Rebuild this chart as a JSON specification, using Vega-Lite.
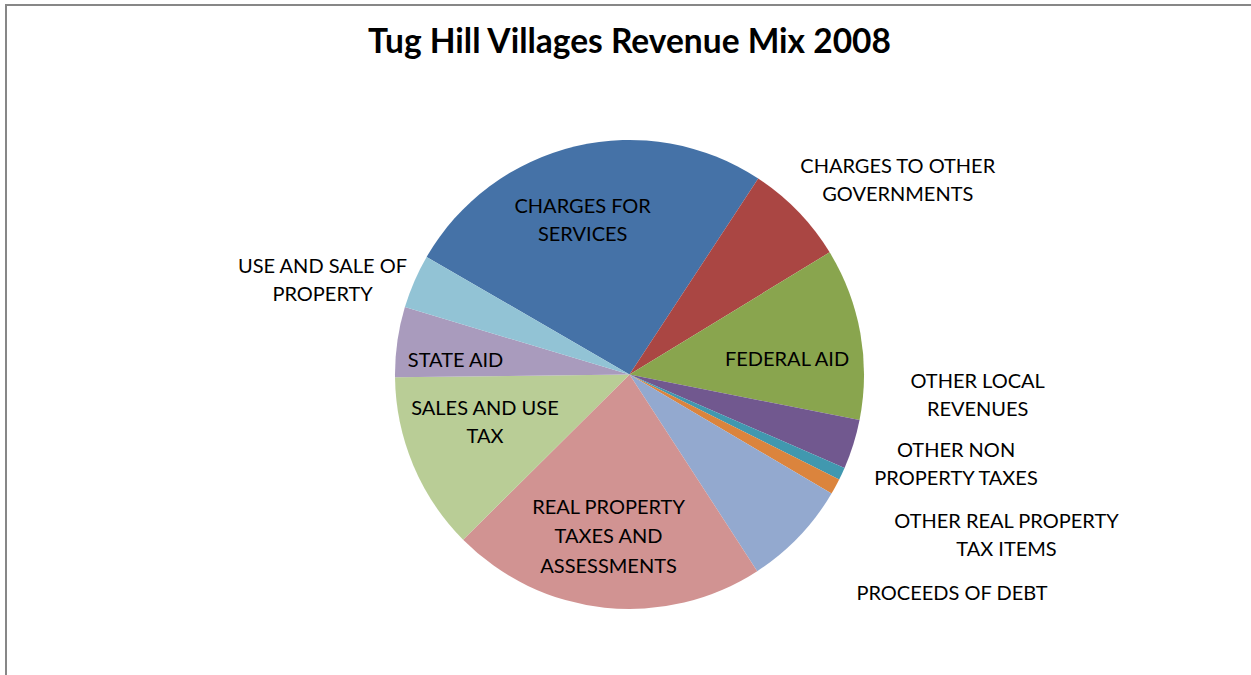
{
  "$schema": "https://vega.github.io/schema/vega-lite/v6.json",
  "width": 1247,
  "height": 739,
  "autosize": {"type": "none"},
  "padding": {"left": 6, "top": 5, "right": 0, "bottom": 0},
  "background": "white",
  "view": {"stroke": "#878787", "strokeWidth": 2},
  "title": {"text": "Tug Hill Villages Revenue Mix 2008", "font": "Lato", "fontSize": 33.5, "fontWeight": "bold", "color": "#000000", "anchor": "middle", "baseline": "alphabetic", "offset": -81, "frame": "bounds"},
  "config": {"view": {"stroke": "#878787", "strokeWidth": 2}},
  "data": {"values": [
    {"cat": "CHARGES FOR SERVICES", "label": "CHARGES FOR\nSERVICES", "value": 93.2},
    {"cat": "CHARGES TO OTHER GOVERNMENTS", "label": "CHARGES TO OTHER\nGOVERNMENTS", "value": 25.3},
    {"cat": "FEDERAL AID", "label": "FEDERAL AID", "value": 42.6},
    {"cat": "OTHER LOCAL REVENUES", "label": "OTHER LOCAL\nREVENUES", "value": 12.3},
    {"cat": "OTHER NON PROPERTY TAXES", "label": "OTHER NON\nPROPERTY TAXES", "value": 3.1},
    {"cat": "OTHER REAL PROPERTY TAX ITEMS", "label": "OTHER REAL PROPERTY\nTAX ITEMS", "value": 3.9},
    {"cat": "PROCEEDS OF DEBT", "label": "PROCEEDS OF DEBT", "value": 26.5},
    {"cat": "REAL PROPERTY TAXES AND ASSESSMENTS", "label": "REAL PROPERTY\nTAXES AND\nASSESSMENTS", "value": 78.2},
    {"cat": "SALES AND USE TAX", "label": "SALES AND USE\nTAX", "value": 44.1},
    {"cat": "STATE AID", "label": "STATE AID", "value": 17.4},
    {"cat": "USE AND SALE OF PROPERTY", "label": "USE AND SALE OF\nPROPERTY", "value": 13.4}
  ]},
  "encoding": {
    "theta": {"field": "value", "type": "quantitative", "stack": true, "scale": {"range": [-1.0455, 5.2377]}}
  },
  "layer": [
    {
      "mark": {"type": "arc", "radius": 234.5},
      "encoding": {
        "color": {"field": "cat", "type": "nominal", "legend": null,
          "scale": {
            "domain": ["CHARGES FOR SERVICES", "CHARGES TO OTHER GOVERNMENTS", "FEDERAL AID", "OTHER LOCAL REVENUES", "OTHER NON PROPERTY TAXES", "OTHER REAL PROPERTY TAX ITEMS", "PROCEEDS OF DEBT", "REAL PROPERTY TAXES AND ASSESSMENTS", "SALES AND USE TAX", "STATE AID", "USE AND SALE OF PROPERTY"],
            "range": ["#4572A7", "#AA4643", "#89A54E", "#71588F", "#4198AF", "#DB843D", "#93A9CF", "#D19392", "#B9CD96", "#A99BBD", "#92C3D5"]
          }}
      }
    },
    {
      "mark": {"type": "text", "font": "Lato", "fontSize": 20, "lineHeight": 28, "lineBreak": "\n", "color": "#000000", "radius": 160, "dx": -10, "dy": -12},
      "encoding": {"detail": {"field": "cat"}, "text": {"condition": {"test": "datum.cat === 'CHARGES FOR SERVICES'", "field": "label"}, "value": ""}}
    },
    {
      "mark": {"type": "text", "font": "Lato", "fontSize": 20, "lineHeight": 28, "lineBreak": "\n", "color": "#000000", "radius": 160, "dx": 0, "dy": 14},
      "encoding": {"detail": {"field": "cat"}, "text": {"condition": {"test": "datum.cat === 'FEDERAL AID'", "field": "label"}, "value": ""}}
    },
    {
      "mark": {"type": "text", "font": "Lato", "fontSize": 20, "lineHeight": 29.5, "lineBreak": "\n", "color": "#000000", "radius": 160, "dx": -4, "dy": -26},
      "encoding": {"detail": {"field": "cat"}, "text": {"condition": {"test": "datum.cat === 'REAL PROPERTY TAXES AND ASSESSMENTS'", "field": "label"}, "value": ""}}
    },
    {
      "mark": {"type": "text", "font": "Lato", "fontSize": 20, "lineHeight": 28, "lineBreak": "\n", "color": "#000000", "radius": 160, "dx": 3, "dy": -27},
      "encoding": {"detail": {"field": "cat"}, "text": {"condition": {"test": "datum.cat === 'SALES AND USE TAX'", "field": "label"}, "value": ""}}
    },
    {
      "mark": {"type": "text", "font": "Lato", "fontSize": 20, "lineHeight": 28, "lineBreak": "\n", "color": "#000000", "radius": 160, "dx": -15.5, "dy": 9},
      "encoding": {"detail": {"field": "cat"}, "text": {"condition": {"test": "datum.cat === 'STATE AID'", "field": "label"}, "value": ""}}
    },
    {
      "mark": {"type": "text", "font": "Lato", "fontSize": 20, "lineHeight": 28, "lineBreak": "\n", "color": "#000000", "radius": 280, "dx": 67, "dy": -13},
      "encoding": {"detail": {"field": "cat"}, "text": {"condition": {"test": "datum.cat === 'CHARGES TO OTHER GOVERNMENTS'", "field": "label"}, "value": ""}}
    },
    {
      "mark": {"type": "text", "font": "Lato", "fontSize": 20, "lineHeight": 28, "lineBreak": "\n", "color": "#000000", "radius": 300, "dx": -31.6, "dy": 11.6},
      "encoding": {"detail": {"field": "cat"}, "text": {"condition": {"test": "datum.cat === 'USE AND SALE OF PROPERTY'", "field": "label"}, "value": ""}}
    },
    {
      "mark": {"type": "text", "font": "Lato", "fontSize": 20, "lineHeight": 28, "lineBreak": "\n", "color": "#000000", "radius": 260, "dx": 100, "dy": -70},
      "encoding": {"detail": {"field": "cat"}, "text": {"condition": {"test": "datum.cat === 'OTHER LOCAL REVENUES'", "field": "label"}, "value": ""}}
    },
    {
      "mark": {"type": "text", "font": "Lato", "fontSize": 20, "lineHeight": 28, "lineBreak": "\n", "color": "#000000", "radius": 260, "dx": 91, "dy": -33.6},
      "encoding": {"detail": {"field": "cat"}, "text": {"condition": {"test": "datum.cat === 'OTHER NON PROPERTY TAXES'", "field": "label"}, "value": ""}}
    },
    {
      "mark": {"type": "text", "font": "Lato", "fontSize": 20, "lineHeight": 28, "lineBreak": "\n", "color": "#000000", "radius": 260, "dx": 148.6, "dy": 23},
      "encoding": {"detail": {"field": "cat"}, "text": {"condition": {"test": "datum.cat === 'OTHER REAL PROPERTY TAX ITEMS'", "field": "label"}, "value": ""}}
    },
    {
      "mark": {"type": "text", "font": "Lato", "fontSize": 20, "lineHeight": 28, "lineBreak": "\n", "color": "#000000", "radius": 260, "dx": 134.7, "dy": 39.8},
      "encoding": {"detail": {"field": "cat"}, "text": {"condition": {"test": "datum.cat === 'PROCEEDS OF DEBT'", "field": "label"}, "value": ""}}
    }
  ]
}
